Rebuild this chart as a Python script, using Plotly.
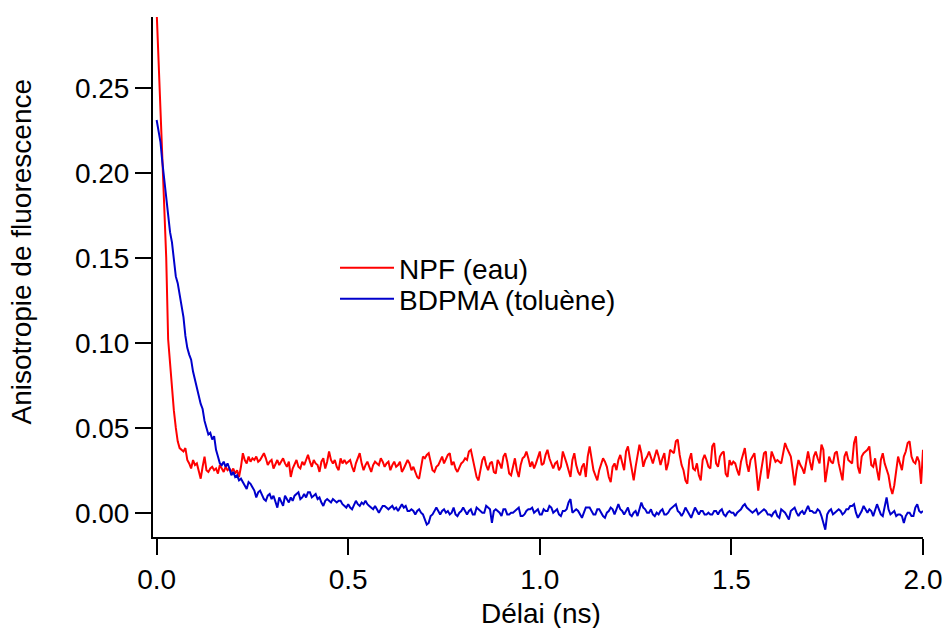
import numpy as np
import plotly.graph_objects as go

# Time axis (ns), regular 5 ps sampling from 0 to 2 ns
delai_ns = np.linspace(0.0, 2.0, 401)

# NPF (eau) anisotropy
npf_eau = [
    0.295, 0.266, 0.240, 0.215, 0.188, 0.150, 0.102, 0.086, 0.073, 0.060,
    0.050, 0.042, 0.038, 0.037, 0.036, 0.038, 0.031, 0.029, 0.026, 0.031,
    0.028, 0.029, 0.025, 0.020, 0.027, 0.033, 0.025, 0.024, 0.026, 0.027,
    0.025, 0.026, 0.023, 0.028, 0.026, 0.024, 0.027, 0.025, 0.026, 0.024,
    0.026, 0.023, 0.025, 0.021, 0.027, 0.035, 0.031, 0.029, 0.033, 0.030,
    0.032, 0.031, 0.033, 0.030, 0.031, 0.033, 0.035, 0.032, 0.028, 0.030,
    0.031, 0.026, 0.029, 0.031, 0.028, 0.030, 0.032, 0.029, 0.027, 0.030,
    0.021, 0.026, 0.029, 0.031, 0.027, 0.026, 0.030, 0.028, 0.031, 0.034,
    0.030, 0.027, 0.031, 0.029, 0.028, 0.024, 0.030, 0.032, 0.026, 0.030,
    0.036, 0.031, 0.029, 0.031, 0.027, 0.025, 0.032, 0.029, 0.031, 0.029,
    0.030, 0.031, 0.027, 0.024, 0.029, 0.032, 0.035, 0.029, 0.025, 0.028,
    0.030, 0.027, 0.024, 0.028, 0.030, 0.029, 0.028, 0.032, 0.030, 0.027,
    0.029, 0.030, 0.025, 0.028, 0.030, 0.027, 0.028, 0.030, 0.024, 0.026,
    0.029, 0.031, 0.029, 0.025, 0.027, 0.024, 0.021, 0.020, 0.027, 0.033,
    0.032, 0.034, 0.035, 0.030, 0.025, 0.024, 0.027, 0.028, 0.031, 0.033,
    0.029, 0.032, 0.034, 0.035, 0.028, 0.030, 0.026, 0.024, 0.027, 0.029,
    0.030, 0.032, 0.031, 0.036, 0.037, 0.031, 0.025, 0.021, 0.019, 0.026,
    0.031, 0.033, 0.028, 0.025, 0.029, 0.030, 0.024, 0.023, 0.031, 0.029,
    0.026, 0.033, 0.035, 0.030, 0.023, 0.022, 0.027, 0.032, 0.025, 0.021,
    0.028, 0.032, 0.033, 0.036, 0.032, 0.027, 0.030, 0.026, 0.029, 0.033,
    0.036, 0.028, 0.029, 0.034, 0.037, 0.032, 0.029, 0.026, 0.029, 0.030,
    0.025, 0.027, 0.036, 0.033, 0.029, 0.025, 0.021, 0.031, 0.035, 0.028,
    0.024, 0.022, 0.027, 0.029, 0.021, 0.033, 0.039, 0.032, 0.025, 0.022,
    0.019, 0.025, 0.029, 0.032, 0.030, 0.027, 0.021, 0.018, 0.027, 0.029,
    0.025, 0.031, 0.034, 0.029, 0.025, 0.036, 0.039, 0.032, 0.025, 0.019,
    0.027, 0.034, 0.040, 0.035, 0.027, 0.031, 0.033, 0.036, 0.033, 0.029,
    0.033, 0.037, 0.033, 0.028, 0.032, 0.035, 0.025, 0.029, 0.037, 0.036,
    0.035, 0.042, 0.043, 0.034, 0.028, 0.025, 0.019, 0.017, 0.031, 0.035,
    0.026, 0.025, 0.029, 0.022, 0.019, 0.031, 0.034, 0.031, 0.027, 0.026,
    0.039, 0.041, 0.029, 0.027, 0.033, 0.035, 0.036, 0.023, 0.021, 0.031,
    0.028, 0.030, 0.029, 0.025, 0.022, 0.030, 0.035, 0.038, 0.029, 0.024,
    0.031, 0.033, 0.035, 0.025, 0.013, 0.021, 0.029, 0.035, 0.036, 0.020,
    0.027, 0.036, 0.033, 0.030, 0.031, 0.030, 0.029, 0.035, 0.041, 0.038,
    0.035, 0.033, 0.025, 0.016, 0.025, 0.031, 0.028, 0.026, 0.023, 0.031,
    0.036, 0.030, 0.025, 0.033, 0.036, 0.032, 0.029, 0.040, 0.037, 0.018,
    0.027, 0.033, 0.030, 0.029, 0.035, 0.036, 0.029, 0.023, 0.019, 0.033,
    0.036, 0.031, 0.030, 0.029, 0.041, 0.045, 0.027, 0.023, 0.033, 0.035,
    0.036, 0.037, 0.039, 0.028, 0.027, 0.032, 0.025, 0.019, 0.031, 0.035,
    0.029, 0.026, 0.022, 0.015, 0.011, 0.016, 0.025, 0.033, 0.029, 0.025,
    0.033, 0.036, 0.041, 0.042, 0.033, 0.030, 0.029, 0.033, 0.030, 0.017,
    0.037,
]

# BDPMA (toluène) anisotropy
bdpma_toluene = [
    0.231, 0.224, 0.218, 0.206, 0.195, 0.184, 0.175, 0.165, 0.159, 0.148,
    0.139, 0.135, 0.128, 0.122, 0.115, 0.104, 0.097, 0.093, 0.090, 0.083,
    0.078, 0.073, 0.070, 0.064, 0.061, 0.054, 0.050, 0.046, 0.047, 0.043,
    0.045, 0.037, 0.033, 0.029, 0.028, 0.030, 0.027, 0.029, 0.026, 0.022,
    0.024, 0.021, 0.022, 0.019, 0.020, 0.018, 0.016, 0.014, 0.018, 0.017,
    0.015, 0.013, 0.009, 0.012, 0.013, 0.010, 0.008, 0.007, 0.010, 0.011,
    0.008, 0.010, 0.007, 0.003, 0.009, 0.006, 0.004, 0.010, 0.008, 0.006,
    0.009, 0.007, 0.010, 0.011, 0.012, 0.008, 0.009, 0.011, 0.009, 0.012,
    0.012, 0.009, 0.010, 0.011, 0.008, 0.009, 0.006, 0.004, 0.007, 0.008,
    0.007, 0.006, 0.008, 0.007, 0.006, 0.007, 0.007, 0.005, 0.004, 0.003,
    0.005, 0.003, 0.002, 0.005, 0.007, 0.005, 0.004, 0.006, 0.005, 0.007,
    0.005, 0.004, 0.003, 0.002, 0.004, 0.002, 0.000, 0.002, 0.004, 0.004,
    0.003, 0.002, 0.003, 0.004, 0.002, 0.003, 0.001, 0.003, 0.005, 0.003,
    0.004, 0.001, 0.001, 0.002, 0.001, -0.001, 0.001, 0.002, 0.000, -0.001,
    -0.004, -0.007, -0.006, -0.002, -0.001, 0.001, 0.003, 0.001, -0.001, 0.001,
    0.002, 0.000, 0.001, -0.001, 0.000, 0.003, -0.001, -0.002, 0.000, 0.001,
    0.003, 0.001, -0.001, 0.001, 0.002, -0.001, -0.001, 0.003, 0.002, 0.001,
    0.000, 0.000, 0.004, 0.003, 0.002, -0.006, 0.001, 0.002, 0.001, 0.000,
    -0.002, 0.002, 0.002, -0.001, -0.001, 0.000, 0.000, 0.001, 0.002, 0.003,
    -0.002, -0.002, -0.001, 0.001, 0.002, 0.002, 0.003, 0.000, 0.001, 0.002,
    -0.001, -0.001, 0.002, 0.001, 0.001, 0.004, 0.003, 0.000, 0.001, 0.002,
    -0.001, -0.002, 0.001, 0.001, 0.002, 0.006, 0.008, 0.000, 0.001, 0.002,
    0.001, -0.001, -0.003, 0.000, 0.003, 0.003, 0.003, 0.001, -0.001, -0.001,
    0.002, 0.002, 0.000, -0.002, -0.003, 0.000, 0.001, 0.003, 0.002, -0.001,
    0.002, 0.005, 0.002, 0.001, -0.001, 0.001, 0.003, -0.001, -0.002, 0.000,
    0.001, -0.002, 0.002, 0.006, 0.003, 0.002, 0.000, 0.000, 0.002, -0.001,
    -0.002, 0.000, -0.001, 0.001, 0.002, -0.001, -0.001, 0.000, 0.002, 0.003,
    0.004, 0.005, 0.001, 0.000, -0.002, 0.000, 0.003, 0.001, -0.001, -0.003,
    0.000, 0.003, 0.001, -0.001, 0.001, 0.001, -0.001, -0.001, 0.000, -0.001,
    -0.001, 0.001, 0.001, -0.001, 0.001, 0.002, -0.001, -0.002, 0.000, 0.001,
    0.000, 0.000, -0.002, 0.000, 0.001, 0.002, 0.004, 0.005, 0.003, 0.002,
    0.001, 0.000, 0.001, 0.002, -0.001, 0.000, 0.001, 0.002, 0.001, -0.001,
    -0.001, -0.002, 0.000, 0.001, -0.002, -0.003, 0.002, 0.001, 0.000, -0.002,
    -0.004, 0.001, 0.002, 0.003, 0.000, -0.002, 0.000, 0.001, -0.001, 0.002,
    0.004, 0.001, 0.001, 0.000, 0.000, 0.002, 0.001, -0.002, -0.006, -0.010,
    -0.001, 0.001, 0.002, -0.001, 0.000, 0.001, 0.002, 0.001, -0.001, 0.000,
    0.002, 0.002, 0.004, 0.004, 0.005, 0.000, -0.003, -0.001, 0.001, 0.004,
    0.002, 0.000, 0.002, 0.001, -0.002, 0.001, 0.005, 0.002, -0.001, -0.002,
    0.003, 0.009, 0.002, -0.001, 0.000, 0.001, -0.002, -0.001, -0.001, -0.002,
    -0.006, -0.002, 0.000, 0.000, -0.002, -0.002, 0.003, 0.005, 0.001, 0.000,
    0.001,
]

x_tick_vals = [0.0, 0.5, 1.0, 1.5, 2.0]
x_tick_text = ["0.0", "0.5", "1.0", "1.5", "2.0"]
y_tick_vals = [0.00, 0.05, 0.10, 0.15, 0.20, 0.25]
y_tick_text = ["0.00", "0.05", "0.10", "0.15", "0.20", "0.25"]

FONT = "Liberation Sans, Arial, Helvetica, sans-serif"
FS = 28

fig = go.Figure()
fig.add_trace(go.Scatter(
    x=delai_ns, y=npf_eau, mode="lines", name="NPF (eau)",
    line=dict(color="#FF0000", width=2), legend="legend",
))
fig.add_trace(go.Scatter(
    x=delai_ns, y=bdpma_toluene, mode="lines", name="BDPMA (toluène)",
    line=dict(color="#0000CC", width=2), legend="legend2",
))

axis_common = dict(
    showline=True, linewidth=2, linecolor="black", mirror=False,
    ticks="outside", ticklen=16, tickwidth=2, tickcolor="black",
    showgrid=False, zeroline=False, automargin=False,
    tickfont=dict(family=FONT, size=FS, color="black"),
)

leg_x = (335 - 153) / 770

fig.update_layout(
    width=946, height=628, autosize=False,
    margin=dict(l=153, r=23, t=17, b=91, autoexpand=False),
    paper_bgcolor="white", plot_bgcolor="white",
    font=dict(family=FONT, size=FS, color="black"),
    showlegend=True,
    xaxis=dict(range=[-0.0095, 2.0], tickvals=x_tick_vals, ticktext=x_tick_text, **axis_common),
    yaxis=dict(range=[-0.0143, 0.2916], tickvals=y_tick_vals, ticktext=y_tick_text, **axis_common),
    legend=dict(x=leg_x, y=(537 - 243) / 520, xanchor="left", yanchor="top",
                bgcolor="rgba(0,0,0,0)", borderwidth=0, itemwidth=54,
                font=dict(family=FONT, size=FS, color="black")),
    legend2=dict(x=leg_x, y=(537 - 274) / 520, xanchor="left", yanchor="top",
                 bgcolor="rgba(0,0,0,0)", borderwidth=0, itemwidth=54,
                 font=dict(family=FONT, size=FS, color="black")),
    annotations=[
        dict(text="Anisotropie de fluorescence", textangle=-90, showarrow=False,
             xref="paper", yref="paper", x=(21 - 153) / 770, y=(537 - 251.5) / 520,
             xanchor="center", yanchor="middle",
             font=dict(family=FONT, size=FS, color="black")),
        dict(text="Délai (ns)", showarrow=False,
             xref="paper", yref="paper", x=(540.5 - 153) / 770, y=(537 - 596) / 520,
             xanchor="center", yanchor="top",
             font=dict(family=FONT, size=FS, color="black")),
    ],
)

fig.write_html(
    "out.html",
    config={"displayModeBar": False, "responsive": False},
    post_script="document.body.style.margin='0';document.body.style.overflow='hidden';",
)
